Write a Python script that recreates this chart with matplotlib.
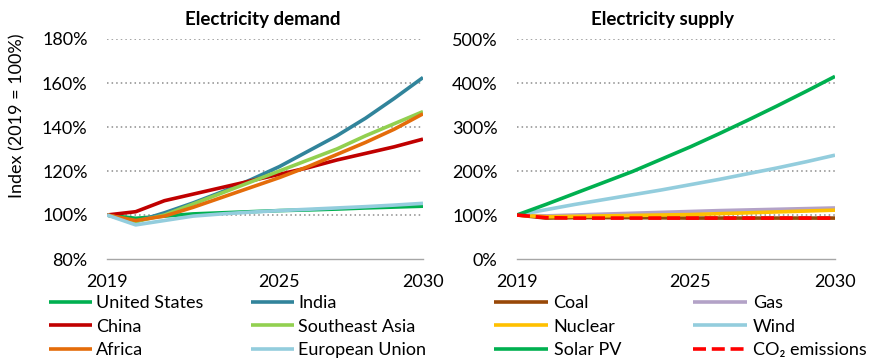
import matplotlib
matplotlib.use("Agg")
import matplotlib.pyplot as plt
from matplotlib.ticker import FuncFormatter

plt.rcParams['font.family'] = ['Lato', 'DejaVu Sans']

years = list(range(2019, 2031))

# Electricity demand index (%)
demand_labels = ["United States", "India", "China", "Southeast Asia", "Africa", "European Union"]
us    = [100, 98.5, 99.5, 100.5, 101, 101.5, 102, 102.3, 102.7, 103.2, 103.6, 104]
india = [100, 97, 101, 105.5, 110.5, 116, 122, 129, 136, 144, 153, 162.5]
china = [100, 101.5, 106.5, 109.5, 112.5, 115.5, 118.5, 121.5, 125, 128, 131, 134.5]
sea   = [100, 97, 100, 105, 110, 115, 120, 125, 130, 136, 141.5, 147]
africa= [100, 97.5, 99.5, 103.5, 108, 112.5, 117, 122, 127.5, 133, 139, 146]
eu    = [100, 95.5, 97.5, 99.5, 100.5, 101.3, 102, 102.6, 103.2, 103.8, 104.5, 105.3]
demand_series = [us, india, china, sea, africa, eu]
demand_colors = ["#00B050", "#31849B", "#C00000", "#92D050", "#E46C0A", "#93CDDD"]

# Electricity supply index (%)
supply_labels = ["Coal", "Gas", "Nuclear", "Wind", "Solar PV", "CO\u2082 emissions"]
coal    = [100, 93, 94, 94, 94, 93.5, 93, 93, 93, 93, 93, 93]
gas     = [100, 98, 100, 102, 104, 106, 108, 110, 111.5, 113, 114.5, 116]
nuclear = [100, 96, 97, 98, 99, 100, 101, 103, 105, 107, 109, 111]
wind    = [100, 112, 124, 135, 146, 157, 169, 181, 194, 207, 221, 236]
solar   = [100, 124, 149, 174, 199, 227, 255, 285, 316, 348, 381, 415]
co2     = [100, 94, 93, 93, 93, 93, 93, 93, 93, 93, 93, 93]
supply_series = [coal, gas, nuclear, wind, solar, co2]
supply_colors = ["#984807", "#B3A2C7", "#FFC000", "#93CDDD", "#00B050", "#FF0000"]

demand_ticks = [80, 100, 120, 140, 160, 180]
supply_ticks = [0, 100, 200, 300, 400, 500]
x_ticks = [2019, 2025, 2030]

W, H = 870, 358
fig = plt.figure(figsize=(W/100, H/100), dpi=100)

def px_axes(l, r, t, b):
    return fig.add_axes([l/W, 1-b/H, (r-l)/W, (b-t)/H])

ax1 = px_axes(107, 423, 39, 259)
ax2 = px_axes(517, 835, 39, 259)

lw = 2.6
for s, c, lab in zip(demand_series, demand_colors, demand_labels):
    ax1.plot(years, s, color=c, lw=lw, label=lab, solid_capstyle='butt')

for s, c, lab in zip(supply_series, supply_colors, supply_labels):
    if lab.startswith("CO"):
        ax2.plot(years, s, color=c, lw=lw, label=lab, dashes=(3.6, 1.6), dash_capstyle='butt')
    else:
        ax2.plot(years, s, color=c, lw=lw, label=lab, solid_capstyle='butt')

pct = FuncFormatter(lambda v, p: f"{v:.0f}%")
for ax, ticks in ((ax1, demand_ticks), (ax2, supply_ticks)):
    ax.set_xlim(2019, 2030)
    ax.set_ylim(ticks[0], ticks[-1])
    ax.set_yticks(ticks)
    ax.set_xticks(x_ticks)
    ax.yaxis.set_major_formatter(pct)
    ax.tick_params(axis='both', length=0, labelsize=13, colors='#000000')
    ax.tick_params(axis='y', pad=14)
    ax.tick_params(axis='x', pad=11)
    for sp in ('top', 'right', 'left'):
        ax.spines[sp].set_visible(False)
    ax.spines['bottom'].set_color('#A6A6A6')
    ax.spines['bottom'].set_linewidth(1.0)
    for t in ticks[1:]:
        ax.axhline(t, color='#8C8C8C', lw=1.1, ls=(0, (1, 2)), zorder=0)
    ax.set_facecolor('none')

fig.text(263/W, 1-20/H, "Electricity demand", ha='center', va='center', fontsize=13.5, fontweight='bold')
fig.text(663/W, 1-20/H, "Electricity supply", ha='center', va='center', fontsize=13.5, fontweight='bold')
fig.text(17/W, 1-116/H, "Index (2019 = 100%)", rotation=90, ha='center', va='center', fontsize=13)

h1, l1 = ax1.get_legend_handles_labels()
order1 = [0, 2, 4, 1, 3, 5]
leg1 = fig.legend([h1[i] for i in order1], [l1[i] for i in order1], ncol=2,
                  loc='upper left', bbox_to_anchor=(49/W, 1-295/H), frameon=False,
                  fontsize=13, handlelength=2.4, handletextpad=0.2, columnspacing=2.65,
                  labelspacing=0.42, borderpad=0, borderaxespad=0)
h2, l2 = ax2.get_legend_handles_labels()
order2 = [0, 2, 4, 1, 3, 5]
leg2 = fig.legend([h2[i] for i in order2], [l2[i] for i in order2], ncol=2,
                  loc='upper left', bbox_to_anchor=(494/W, 1-295/H), frameon=False,
                  fontsize=13, handlelength=3.0, handletextpad=0.3, columnspacing=4.0,
                  labelspacing=0.42, borderpad=0, borderaxespad=0)

fig.savefig("out.png", dpi=100)
